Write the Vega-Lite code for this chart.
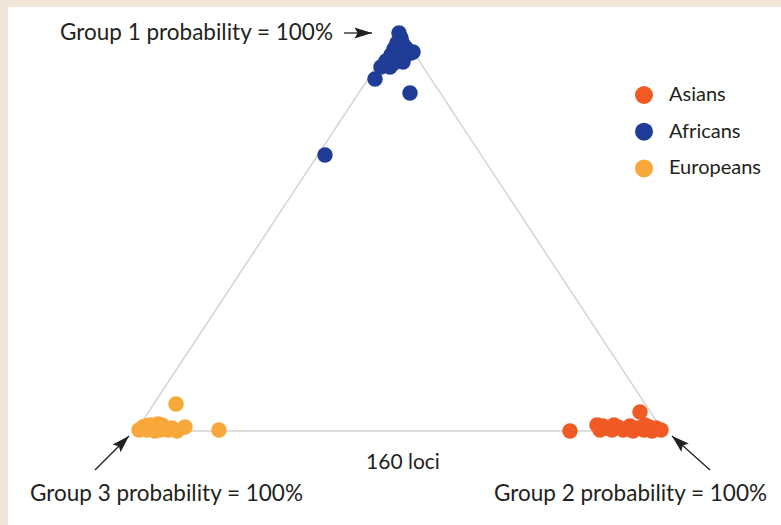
{
  "$schema": "https://vega.github.io/schema/vega-lite/v6.json",
  "width": 773,
  "height": 518,
  "autosize": {"type": "none"},
  "padding": {"left": 8, "top": 7, "right": 0, "bottom": 0},
  "background": "#f2e6d9",
  "config": {
    "view": {"fill": "white", "stroke": null},
    "font": "Lato",
    "text": {"color": "#231f20", "font": "Lato"}
  },
  "datasets": {
    "triangle": [
      {"corner": "Group 3", "x": 0, "y": 0, "step": 0},
      {"corner": "Group 1", "x": 0.5, "y": 1, "step": 1},
      {"corner": "Group 2", "x": 1, "y": 0, "step": 2},
      {"corner": "Group 3", "x": 0, "y": 0, "step": 3}
    ],
    "samples": [
      {"population": "Africans", "x": 0.4991, "y": 0.995},
      {"population": "Africans", "x": 0.5028, "y": 0.9825},
      {"population": "Africans", "x": 0.4953, "y": 0.97},
      {"population": "Africans", "x": 0.5066, "y": 0.9675},
      {"population": "Africans", "x": 0.4896, "y": 0.955},
      {"population": "Africans", "x": 0.5028, "y": 0.9525},
      {"population": "Africans", "x": 0.5123, "y": 0.9575},
      {"population": "Africans", "x": 0.4839, "y": 0.94},
      {"population": "Africans", "x": 0.4972, "y": 0.9375},
      {"population": "Africans", "x": 0.5104, "y": 0.9375},
      {"population": "Africans", "x": 0.5218, "y": 0.945},
      {"population": "Africans", "x": 0.4744, "y": 0.925},
      {"population": "Africans", "x": 0.4896, "y": 0.92},
      {"population": "Africans", "x": 0.5066, "y": 0.9225},
      {"population": "Africans", "x": 0.4649, "y": 0.91},
      {"population": "Africans", "x": 0.482, "y": 0.91},
      {"population": "Africans", "x": 0.5256, "y": 0.9475},
      {"population": "Africans", "x": 0.4535, "y": 0.88},
      {"population": "Africans", "x": 0.5199, "y": 0.845},
      {"population": "Africans", "x": 0.3586, "y": 0.69},
      {"population": "Asians", "x": 0.8235, "y": 0},
      {"population": "Asians", "x": 0.8748, "y": 0.015},
      {"population": "Asians", "x": 0.8805, "y": 0.0025},
      {"population": "Asians", "x": 0.8861, "y": 0.0125},
      {"population": "Asians", "x": 0.8918, "y": 0.0075},
      {"population": "Asians", "x": 0.9032, "y": 0.0025},
      {"population": "Asians", "x": 0.907, "y": 0.015},
      {"population": "Asians", "x": 0.9146, "y": 0.01},
      {"population": "Asians", "x": 0.9241, "y": 0.0025},
      {"population": "Asians", "x": 0.9336, "y": 0.005},
      {"population": "Asians", "x": 0.9374, "y": 0.0125},
      {"population": "Asians", "x": 0.9431, "y": 0},
      {"population": "Asians", "x": 0.9526, "y": 0.0075},
      {"population": "Asians", "x": 0.9564, "y": 0.0475},
      {"population": "Asians", "x": 0.9639, "y": 0.0025},
      {"population": "Asians", "x": 0.9658, "y": 0.015},
      {"population": "Asians", "x": 0.9734, "y": 0.01},
      {"population": "Asians", "x": 0.9791, "y": 0},
      {"population": "Asians", "x": 0.9867, "y": 0.0075},
      {"population": "Asians", "x": 0.9962, "y": 0.0025},
      {"population": "Europeans", "x": 0.0057, "y": 0.0025},
      {"population": "Europeans", "x": 0.0133, "y": 0.01},
      {"population": "Europeans", "x": 0.019, "y": 0.0125},
      {"population": "Europeans", "x": 0.0209, "y": 0.0025},
      {"population": "Europeans", "x": 0.0266, "y": 0.015},
      {"population": "Europeans", "x": 0.0342, "y": 0.005},
      {"population": "Europeans", "x": 0.0361, "y": 0},
      {"population": "Europeans", "x": 0.0417, "y": 0.0175},
      {"population": "Europeans", "x": 0.0455, "y": 0.0025},
      {"population": "Europeans", "x": 0.0493, "y": 0.015},
      {"population": "Europeans", "x": 0.0531, "y": 0.01},
      {"population": "Europeans", "x": 0.0607, "y": 0.0025},
      {"population": "Europeans", "x": 0.0683, "y": 0.0075},
      {"population": "Europeans", "x": 0.0759, "y": 0.0675},
      {"population": "Europeans", "x": 0.0778, "y": 0},
      {"population": "Europeans", "x": 0.093, "y": 0.01},
      {"population": "Europeans", "x": 0.1575, "y": 0.0025}
    ],
    "arrows": [
      {"target": "Group 1", "x": 0.3947, "y": 0.995, "x2": 0.4478, "y2": 0.995},
      {"target": "Group 3", "x": -0.0778, "y": -0.0975, "x2": -0.0133, "y2": -0.0125},
      {"target": "Group 2", "x": 1.0892, "y": -0.0975, "x2": 1.0171, "y2": -0.0125}
    ]
  },
  "layer": [
    {
      "data": {"name": "triangle"},
      "mark": {"type": "line", "color": "#d4d4d4", "strokeWidth": 1.5},
      "encoding": {
        "x": {"field": "x", "type": "quantitative", "axis": null,
              "scale": {"domain": [-0.24288, 1.22391], "nice": false, "zero": false}},
        "y": {"field": "y", "type": "quantitative", "axis": null,
              "scale": {"domain": [-0.235, 1.06], "nice": false, "zero": false}},
        "order": {"field": "step", "type": "quantitative"}
      }
    },
    {
      "data": {"name": "samples"},
      "mark": {"type": "point", "filled": true, "size": 240, "opacity": 1},
      "encoding": {
        "x": {"field": "x", "type": "quantitative"},
        "y": {"field": "y", "type": "quantitative"},
        "color": {
          "field": "population", "type": "nominal",
          "scale": {"domain": ["Asians", "Africans", "Europeans"],
                    "range": ["#f05a24", "#1f3c96", "#f8a73a"]},
          "legend": {
            "orient": "none", "legendX": 626, "legendY": 78, "title": null,
            "symbolType": "circle", "symbolSize": 324, "symbolOpacity": 1,
            "symbolStrokeWidth": 0, "labelFontSize": 20, "labelOffset": 15,
            "labelColor": "#231f20", "labelFont": "Lato", "rowPadding": 16.7,
            "padding": 0
          }
        }
      }
    },
    {
      "data": {"name": "arrows"},
      "mark": {"type": "rule", "color": "#231f20", "strokeWidth": 1.3},
      "encoding": {
        "x": {"field": "x", "type": "quantitative"},
        "y": {"field": "y", "type": "quantitative"},
        "x2": {"field": "x2"},
        "y2": {"field": "y2"}
      }
    },
    {
      "data": {"name": "arrows"},
      "transform": [{"filter": "datum.target === 'Group 1'"}],
      "mark": {"type": "point", "filled": true, "opacity": 1, "color": "#231f20", "size": 1225,
               "shape": "M0,0L-1,-0.32L-0.82,0L-1,0.32Z", "angle": 0},
      "encoding": {
        "x": {"field": "x2", "type": "quantitative"},
        "y": {"field": "y2", "type": "quantitative"}
      }
    },
    {
      "data": {"name": "arrows"},
      "transform": [{"filter": "datum.target === 'Group 3'"}],
      "mark": {"type": "point", "filled": true, "opacity": 1, "color": "#231f20", "size": 1225,
               "shape": "M0,0L-1,-0.32L-0.82,0L-1,0.32Z", "angle": 315},
      "encoding": {
        "x": {"field": "x2", "type": "quantitative"},
        "y": {"field": "y2", "type": "quantitative"}
      }
    },
    {
      "data": {"name": "arrows"},
      "transform": [{"filter": "datum.target === 'Group 2'"}],
      "mark": {"type": "point", "filled": true, "opacity": 1, "color": "#231f20", "size": 1225,
               "shape": "M0,0L-1,-0.32L-0.82,0L-1,0.32Z", "angle": 222},
      "encoding": {
        "x": {"field": "x2", "type": "quantitative"},
        "y": {"field": "y2", "type": "quantitative"}
      }
    },
    {
      "data": {"values": [
        {"label": "Group 1 probability = 100%", "x": -0.1442, "y": 0.995},
        {"label": "Group 3 probability = 100%", "x": -0.2011, "y": -0.1575}
      ]},
      "mark": {"type": "text", "align": "left", "baseline": "middle", "fontSize": 22.5},
      "encoding": {
        "x": {"field": "x", "type": "quantitative"},
        "y": {"field": "y", "type": "quantitative"},
        "text": {"field": "label"}
      }
    },
    {
      "data": {"values": [
        {"label": "Group 2 probability = 100%", "x": 1.1973, "y": -0.1575}
      ]},
      "mark": {"type": "text", "align": "right", "baseline": "middle", "fontSize": 22.5},
      "encoding": {
        "x": {"field": "x", "type": "quantitative"},
        "y": {"field": "y", "type": "quantitative"},
        "text": {"field": "label"}
      }
    },
    {
      "data": {"values": [
        {"label": "160 loci", "x": 0.5066, "y": -0.08}
      ]},
      "mark": {"type": "text", "align": "center", "baseline": "middle", "fontSize": 21},
      "encoding": {
        "x": {"field": "x", "type": "quantitative"},
        "y": {"field": "y", "type": "quantitative"},
        "text": {"field": "label"}
      }
    }
  ]
}
